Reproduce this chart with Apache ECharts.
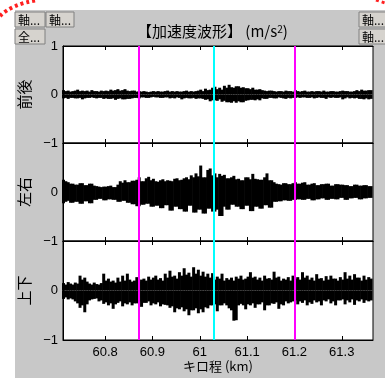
<!DOCTYPE html>
<html>
<head>
<meta charset="utf-8">
<script src="https://cdn.jsdelivr.net/npm/echarts@6/dist/echarts.min.js"></script>
<style>
  html, body { margin: 0; padding: 0; background: #fff; }
  #chart { width: 385px; height: 378px; }
</style>
</head>
<body>
<div id="chart"></div>
<script>
// サンプル位置 (km)
var kmStart = 60.712;
var kmStep = 0.005;

// 前後 上側/下側
var fbUp = [
    0.09,0.07,0.08,0.06,0.07,0.08,0.10,0.07,0.08,0.07,
    0.08,0.06,0.09,0.07,0.07,0.06,0.08,0.07,0.08,0.07,
    0.10,0.08,0.09,0.11,0.08,0.09,0.11,0.08,0.07,0.08,
    0.08,0.06,0.07,0.06,0.07,0.06,0.05,0.06,0.07,0.06,
    0.07,0.06,0.06,0.07,0.08,0.06,0.07,0.06,0.07,0.06,
    0.06,0.07,0.08,0.06,0.07,0.06,0.07,0.08,0.10,0.07,
    0.12,0.09,0.10,0.14,0.16,0.11,0.14,0.10,0.18,0.14,
    0.20,0.15,0.14,0.17,0.17,0.14,0.15,0.13,0.13,0.11,
    0.14,0.10,0.10,0.11,0.09,0.08,0.07,0.08,0.08,0.07,
    0.06,0.07,0.07,0.06,0.08,0.07,0.07,0.06,0.09,0.07,
    0.06,0.07,0.08,0.06,0.06,0.07,0.06,0.07,0.07,0.06,
    0.08,0.06,0.06,0.07,0.07,0.06,0.06,0.07,0.08,0.07,
    0.07,0.06,0.06,0.07,0.09,0.07,0.10,0.08,0.08,0.09,
    0.09
];
var fbDown = [
    -0.08,-0.07,-0.09,-0.07,-0.07,-0.08,-0.08,-0.07,-0.10,-0.08,
    -0.07,-0.07,-0.06,-0.07,-0.08,-0.07,-0.07,-0.09,-0.08,-0.09,
    -0.09,-0.08,-0.11,-0.09,-0.08,-0.10,-0.10,-0.09,-0.09,-0.08,
    -0.07,-0.07,-0.08,-0.06,-0.06,-0.07,-0.07,-0.06,-0.05,-0.06,
    -0.06,-0.07,-0.07,-0.06,-0.06,-0.08,-0.07,-0.08,-0.06,-0.07,
    -0.10,-0.08,-0.07,-0.08,-0.08,-0.07,-0.09,-0.08,-0.08,-0.09,
    -0.11,-0.10,-0.14,-0.12,-0.12,-0.13,-0.10,-0.15,-0.13,-0.16,
    -0.16,-0.17,-0.14,-0.17,-0.14,-0.16,-0.16,-0.13,-0.12,-0.11,
    -0.11,-0.12,-0.10,-0.12,-0.08,-0.09,-0.09,-0.07,-0.07,-0.08,
    -0.08,-0.06,-0.07,-0.08,-0.09,-0.07,-0.08,-0.07,-0.07,-0.06,
    -0.07,-0.06,-0.06,-0.07,-0.07,-0.06,-0.08,-0.07,-0.06,-0.07,
    -0.07,-0.09,-0.06,-0.07,-0.06,-0.07,-0.07,-0.06,-0.10,-0.08,
    -0.06,-0.08,-0.07,-0.08,-0.07,-0.09,-0.09,-0.10,-0.08,-0.10,
    -0.09
];
// 左右 上側/下側
var lrUp = [
    0.25,0.22,0.20,0.17,0.17,0.15,0.15,0.18,0.18,0.14,
    0.14,0.17,0.17,0.13,0.12,0.11,0.10,0.11,0.11,0.12,
    0.13,0.10,0.10,0.15,0.22,0.19,0.24,0.20,0.20,0.23,
    0.23,0.25,0.30,0.22,0.22,0.28,0.31,0.24,0.27,0.22,
    0.21,0.24,0.26,0.22,0.24,0.23,0.22,0.27,0.28,0.24,
    0.25,0.28,0.30,0.26,0.34,0.30,0.38,0.32,0.54,0.30,
    0.30,0.45,0.48,0.34,0.38,0.30,0.37,0.33,0.35,0.28,
    0.28,0.30,0.33,0.26,0.27,0.24,0.24,0.30,0.30,0.26,
    0.37,0.27,0.26,0.25,0.25,0.30,0.38,0.24,0.24,0.20,
    0.17,0.16,0.15,0.18,0.18,0.16,0.16,0.18,0.20,0.17,
    0.17,0.19,0.20,0.15,0.15,0.17,0.18,0.14,0.14,0.16,
    0.16,0.17,0.17,0.13,0.13,0.16,0.16,0.15,0.15,0.14,
    0.14,0.12,0.12,0.15,0.15,0.13,0.13,0.14,0.14,0.12,
    0.12
];
var lrDown = [
    -0.23,-0.20,-0.18,-0.22,-0.22,-0.20,-0.20,-0.24,-0.24,-0.19,
    -0.19,-0.23,-0.23,-0.16,-0.16,-0.14,-0.14,-0.17,-0.17,-0.15,
    -0.15,-0.16,-0.16,-0.20,-0.20,-0.18,-0.18,-0.22,-0.22,-0.25,
    -0.25,-0.29,-0.29,-0.26,-0.26,-0.24,-0.24,-0.30,-0.30,-0.28,
    -0.28,-0.33,-0.33,-0.27,-0.27,-0.38,-0.38,-0.30,-0.30,-0.35,
    -0.35,-0.40,-0.40,-0.28,-0.28,-0.42,-0.42,-0.36,-0.36,-0.44,
    -0.44,-0.34,-0.34,-0.40,-0.40,-0.36,-0.49,-0.49,-0.30,-0.36,
    -0.36,-0.26,-0.26,-0.30,-0.30,-0.35,-0.35,-0.28,-0.28,-0.39,
    -0.39,-0.30,-0.30,-0.34,-0.34,-0.27,-0.27,-0.32,-0.32,-0.20,
    -0.20,-0.19,-0.19,-0.17,-0.17,-0.18,-0.18,-0.16,-0.16,-0.15,
    -0.15,-0.16,-0.16,-0.14,-0.14,-0.17,-0.17,-0.15,-0.15,-0.13,
    -0.13,-0.16,-0.16,-0.14,-0.14,-0.15,-0.15,-0.12,-0.12,-0.16,
    -0.16,-0.13,-0.13,-0.12,-0.12,-0.15,-0.15,-0.13,-0.13,-0.12,
    -0.12
];
// 上下 上側/下側
var udUp = [
    0.15,0.12,0.17,0.14,0.12,0.16,0.14,0.30,0.22,0.26,
    0.18,0.14,0.12,0.16,0.13,0.12,0.15,0.34,0.20,0.24,
    0.18,0.20,0.16,0.26,0.18,0.30,0.20,0.34,0.22,0.18,
    0.20,0.27,0.18,0.22,0.24,0.20,0.28,0.22,0.26,0.30,
    0.22,0.25,0.20,0.34,0.26,0.40,0.28,0.30,0.24,0.37,
    0.30,0.45,0.32,0.36,0.28,0.47,0.34,0.42,0.30,0.38,
    0.28,0.34,0.26,0.35,0.22,0.28,0.24,0.34,0.20,0.25,
    0.22,0.26,0.20,0.28,0.24,0.30,0.22,0.24,0.28,0.37,
    0.26,0.28,0.22,0.26,0.20,0.30,0.24,0.25,0.22,0.38,
    0.26,0.28,0.20,0.24,0.22,0.27,0.20,0.30,0.24,0.27,
    0.22,0.37,0.26,0.30,0.22,0.26,0.20,0.33,0.24,0.25,
    0.20,0.29,0.22,0.30,0.24,0.24,0.20,0.27,0.22,0.37,
    0.24,0.30,0.22,0.33,0.26,0.26,0.20,0.30,0.22,0.27,
    0.24
];
var udDown = [
    -0.17,-0.14,-0.18,-0.16,-0.18,-0.22,-0.26,-0.35,-0.30,-0.44,
    -0.28,-0.20,-0.18,-0.17,-0.16,-0.22,-0.20,-0.27,-0.24,-0.30,
    -0.26,-0.37,-0.28,-0.25,-0.22,-0.32,-0.26,-0.28,-0.24,-0.30,
    -0.26,-0.26,-0.22,-0.33,-0.25,-0.25,-0.22,-0.30,-0.26,-0.28,
    -0.24,-0.32,-0.28,-0.29,-0.30,-0.35,-0.32,-0.44,-0.36,-0.38,
    -0.34,-0.42,-0.38,-0.50,-0.40,-0.40,-0.36,-0.46,-0.38,-0.44,
    -0.34,-0.36,-0.30,-0.30,-0.28,-0.42,-0.30,-0.30,-0.26,-0.30,
    -0.36,-0.40,-0.61,-0.60,-0.30,-0.27,-0.30,-0.38,-0.28,-0.30,
    -0.26,-0.35,-0.28,-0.28,-0.24,-0.40,-0.30,-0.30,-0.26,-0.27,
    -0.24,-0.37,-0.28,-0.30,-0.22,-0.26,-0.24,-0.22,-0.20,-0.28,
    -0.22,-0.25,-0.20,-0.30,-0.24,-0.27,-0.20,-0.24,-0.22,-0.30,
    -0.20,-0.22,-0.18,-0.26,-0.22,-0.30,-0.20,-0.20,-0.18,-0.28,
    -0.20,-0.24,-0.18,-0.29,-0.20,-0.22,-0.18,-0.25,-0.20,-0.22,
    -0.20
];

var panelNames = ['前後', '左右', '上下'];
var xTicks = [60.8, 60.9, 61.0, 61.1, 61.2, 61.3];
var markerKm = [60.870, 61.034, 61.204];
var markerColors = ['#ff00ff', '#00ffff', '#ff00ff'];

var numFont = 'Liberation Sans';
var jpFont = 'Noto Sans CJK JP';

function toPairs(vals) {
    var out = [];
    for (var i = 0; i < vals.length; i++) {
        out.push([kmStart + i * kmStep, vals[i]]);
    }
    return out;
}

var chart = echarts.init(document.getElementById('chart'), null, { renderer: 'canvas' });

var grids = [
    { left: 63, right: 12, top: 46, height: 97 },
    { left: 63, right: 12, top: 143, height: 98 },
    { left: 63, right: 12, top: 241, height: 99 }
];
var xAxes = [], yAxes = [], series = [];
var ups = [fbUp, lrUp, udUp];
var downs = [fbDown, lrDown, udDown];

for (var g = 0; g < 3; g++) {
    grids[g].show = true;
    grids[g].backgroundColor = '#fff';
    grids[g].borderColor = '#000';
    grids[g].borderWidth = 1;

    var last = g === 2;
    // 下側の軸
    xAxes.push({
        type: 'value', gridIndex: g, position: 'bottom',
        min: 60.711, max: 61.366,
        axisLine: { show: true, onZero: false, lineStyle: { color: '#000', width: 1 } },
        axisTick: { show: true, inside: true, length: 4, customValues: xTicks, lineStyle: { color: '#000' } },
        axisLabel: {
            show: last, customValues: xTicks, margin: 6,
            color: '#000', fontSize: 13, fontFamily: numFont,
            formatter: function (v) { return String(Math.round(v * 10) / 10); }
        },
        splitLine: { show: false },
        name: last ? 'キロ程 (km)' : '',
        nameLocation: 'middle', nameGap: 20,
        nameTextStyle: { color: '#000', fontSize: 13, fontFamily: jpFont }
    });
    // 上側の軸
    xAxes.push({
        type: 'value', gridIndex: g, position: 'top',
        min: 60.711, max: 61.366,
        axisLine: { show: true, onZero: false, lineStyle: { color: '#000', width: 1 } },
        axisTick: { show: true, inside: true, length: 4, customValues: xTicks, lineStyle: { color: '#000' } },
        axisLabel: { show: false },
        splitLine: { show: false }
    });
    yAxes.push({
        type: 'value', gridIndex: g, min: -1, max: 1, interval: 1,
        axisLine: { show: true, lineStyle: { color: '#000' } },
        axisTick: { show: false },
        splitLine: { show: false },
        axisLabel: {
            color: '#000', fontSize: 13, fontFamily: numFont, margin: 5,
            showMaxLabel: g === 0,
            formatter: function (v) { return v < 0 ? '\u2212' + Math.abs(v) : String(v); }
        },
        name: panelNames[g], nameLocation: 'middle', nameRotate: 90, nameGap: 28,
        nameTextStyle: { color: '#000', fontSize: 15, fontFamily: jpFont }
    });
    var marks = [];
    for (var k = 0; k < markerKm.length; k++) {
        marks.push({ xAxis: markerKm[k], lineStyle: { color: markerColors[k], width: 2, type: 'solid' } });
    }
    series.push({
        type: 'bar', xAxisIndex: g * 2, yAxisIndex: g,
        data: toPairs(ups[g]),
        barWidth: 3, barGap: '-100%',
        itemStyle: { color: '#000' },
        silent: true
    });
    series.push({
        type: 'bar', xAxisIndex: g * 2, yAxisIndex: g,
        data: toPairs(downs[g]),
        barWidth: 3, barGap: '-100%',
        itemStyle: { color: '#000' },
        silent: true,
        markLine: { silent: true, symbol: 'none', label: { show: false }, data: marks }
    });
}

function button(x, y, w, label) {
    return {
        type: 'group', x: x, y: y,
        children: [
            { type: 'rect', shape: { x: 0, y: 0, width: w, height: 15 },
              style: { fill: '#d6d3ce', stroke: '#808080', lineWidth: 1 } },
            { type: 'text', x: 3, y: 2,
              style: { text: label, fill: '#000', font: '12px "Noto Sans CJK JP"' } }
        ]
    };
}

var option = {
    animation: false,
    backgroundColor: '#fff',
    title: {
        text: '【加速度波形】 (m/s{sup|2})',
        left: 132, top: 19,
        textStyle: {
            color: '#000', fontSize: 15, fontWeight: 'normal', fontFamily: jpFont,
            rich: { sup: { fontSize: 10, verticalAlign: 'top', fontFamily: jpFont, color: '#000' } }
        }
    },
    graphic: [
        { type: 'rect', z: -10, shape: { x: 15, y: 10, width: 370, height: 368 }, style: { fill: '#c8c8c8' } },
        { type: 'bezierCurve', shape: { x1: 0, y1: 16, x2: 38, y2: 0, cpx1: 12, cpy1: 4 },
          style: { stroke: '#ff2020', lineWidth: 4, lineDash: [3, 3], fill: null } },
        { type: 'line', shape: { x1: 376, y1: 0, x2: 385, y2: 3 },
          style: { stroke: '#ff2020', lineWidth: 3, lineDash: [3, 3] } },
        button(15, 12, 30, '軸...'),
        button(46, 12, 28, '軸...'),
        button(15, 29, 30, '全...'),
        button(359, 12, 30, '軸...'),
        button(359, 29, 30, '軸...')
    ],
    grid: grids,
    xAxis: xAxes,
    yAxis: yAxes,
    series: series
};

chart.setOption(option);
</script>
</body>
</html>
